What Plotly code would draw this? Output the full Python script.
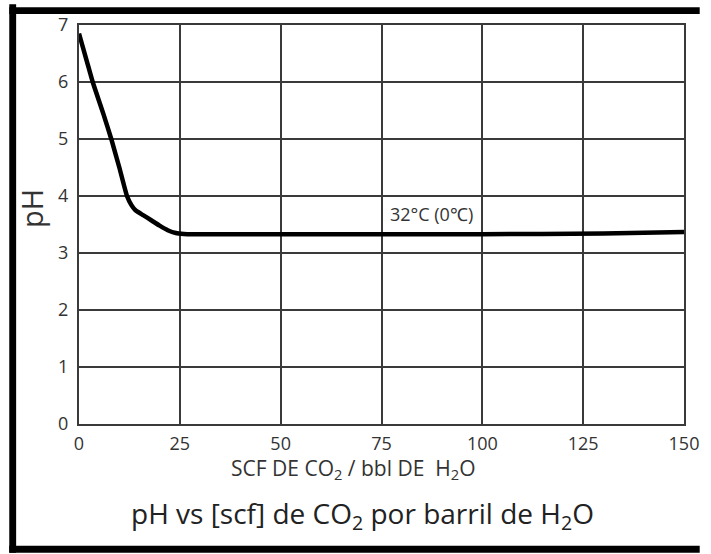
import plotly.graph_objects as go

# Data
scf_co2 = [0, 2, 3.4, 6, 8, 10, 11.9, 13, 14, 16, 18, 20, 22, 24, 26, 28, 30, 50, 100, 130, 150]
ph_vals = [6.85, 6.35, 6.0, 5.45, 5.0, 4.5, 4.0, 3.84, 3.75, 3.66, 3.57, 3.48, 3.40, 3.35, 3.335, 3.33, 3.33, 3.33, 3.33, 3.34, 3.37]
x_ticks = [0, 25, 50, 75, 100, 125, 150]
y_ticks = [0, 1, 2, 3, 4, 5, 6, 7]
curve_label = "32°C (0℃)"
curve_label_pos = (87.5, 3.68)

W, H = 711, 554
L, R, T, B = 79, 16, 21, 130
PW, PH = W - L - R, H - T - B

def px(xp):
    return (xp - L) / PW

def py(yp):
    return (H - B - yp) / PH

FONT = "Open Sans"
TXT = "#333333"
GRID = "#3a3a3a"

fig = go.Figure()
fig.add_trace(go.Scatter(x=scf_co2, y=ph_vals, mode="lines",
                         line=dict(color="black", width=4.5, shape="spline", smoothing=0.5),
                         showlegend=False, hoverinfo="skip"))

fig.update_layout(
    width=W, height=H, autosize=False,
    margin=dict(l=L, r=R, t=T, b=B),
    paper_bgcolor="white", plot_bgcolor="white",
    font=dict(family=FONT, color=TXT),
    xaxis=dict(range=[0, 150], tickvals=x_ticks, showgrid=True, gridcolor=GRID, gridwidth=1.5,
               showline=True, linecolor=GRID, linewidth=2, mirror=True, zeroline=False,
               ticks="", tickfont=dict(size=18, color=TXT), ticklabelstandoff=2),
    yaxis=dict(range=[0, 7], tickvals=y_ticks, showgrid=True, gridcolor=GRID, gridwidth=1.5,
               showline=True, linecolor=GRID, linewidth=2, mirror=True, zeroline=False,
               ticks="", tickfont=dict(size=18, color=TXT), ticklabelstandoff=5),
)

fig.add_annotation(x=curve_label_pos[0], y=curve_label_pos[1], text=curve_label, showarrow=False,
                   font=dict(size=18, color=TXT))
fig.add_annotation(xref="paper", yref="paper", x=px(358), y=py(469),
                   text="SCF DE CO<sub>2</sub> / bbl DE  H<sub>2</sub>O", showarrow=False,
                   font=dict(size=21, color=TXT), xanchor="center", yanchor="middle")
fig.add_annotation(xref="paper", yref="paper", x=px(368), y=py(516),
                   text="pH vs [scf] de CO<sub>2</sub> por barril de H<sub>2</sub>O", showarrow=False,
                   font=dict(size=28, color="#222222"), xanchor="center", yanchor="middle")
fig.add_annotation(xref="paper", yref="paper", x=px(30), y=py(206), text="pH", textangle=-90,
                   showarrow=False, font=dict(size=29, color=TXT), xanchor="center", yanchor="middle")

# Outer black frame
frame = [
    (8, 0, 15, H),      # left
    (8, 3, W, 10),      # top
    (8, 547, W, H),     # bottom
]
for x0, y0, x1, y1 in frame:
    fig.add_shape(type="rect", xref="paper", yref="paper",
                  x0=px(x0), x1=px(x1), y0=py(y1), y1=py(y0),
                  fillcolor="black", line=dict(width=0), layer="above")

fig.write_html("out.html", config={"responsive": False})
